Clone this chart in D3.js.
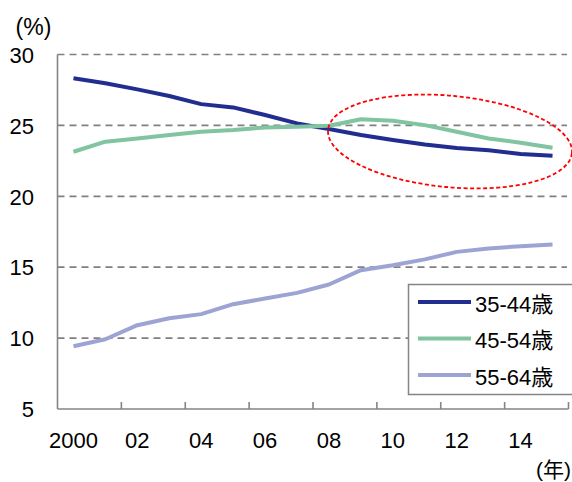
<!DOCTYPE html>
<html>
<head>
<meta charset="utf-8">
<script src="https://cdn.jsdelivr.net/npm/d3@7"></script>
<style>
  html, body { margin: 0; padding: 0; background: #fff; }
  svg { display: block; }
  text { font-family: "Liberation Sans", Arial, "Noto Sans CJK JP", sans-serif; fill: #000; }
</style>
</head>
<body>
<svg id="chart" width="572" height="482"></svg>
<script>
// ---- data ----
const years = [2000,2001,2002,2003,2004,2005,2006,2007,2008,2009,2010,2011,2012,2013,2014,2015];
const age35_44 = [28.32,27.97,27.54,27.07,26.50,26.27,25.73,25.14,24.75,24.32,23.97,23.65,23.40,23.24,22.98,22.86];
const age45_54 = [23.14,23.85,24.08,24.32,24.55,24.67,24.86,24.90,24.98,25.43,25.33,25.02,24.55,24.08,23.78,23.42];
const age55_64 = [9.43,9.92,10.91,11.40,11.69,12.39,12.79,13.19,13.78,14.79,15.14,15.55,16.08,16.32,16.48,16.60];
const seriesNames = ["35-44歳","45-54歳","55-64歳"];
const yTicks = [5,10,15,20,25,30];
const xTickYears = [2000,2002,2004,2006,2008,2010,2012,2014];
const xTickLabels = ["2000","02","04","06","08","10","12","14"];
const yUnit = "(%)";
const xUnit = "(年)";

// ---- layout ----
const svg = d3.select("#chart");
const colors = ["#212d8f", "#80c4a1", "#9da3d3"];
const seriesData = [age35_44, age45_54, age55_64];

const x = d3.scaleBand().domain(years).range([57.5, 568.5]).padding(0);
const y = d3.scaleLinear().domain([5, 30]).range([409, 54.5]);
const cx = d => x(d) + x.bandwidth() / 2;

// gridlines
svg.append("g")
  .selectAll("line")
  .data(yTicks.filter(v => v > 5))
  .join("line")
  .attr("x1", 57.5).attr("x2", 567)
  .attr("y1", d => y(d)).attr("y2", d => y(d))
  .attr("stroke", "#808080")
  .attr("stroke-width", 1.7)
  .attr("stroke-dasharray", "7,5");

// y axis labels
const yAxis = d3.axisLeft(y).tickValues(yTicks).tickSize(0).tickPadding(0).tickFormat(d3.format("d"));
const gy = svg.append("g").attr("transform", "translate(34,0)").call(yAxis);
gy.select(".domain").remove();
gy.selectAll("text")
  .attr("font-size", 22)
  .attr("dy", "0.35em")
  .attr("x", 0)
  .style("font-family", "\"Liberation Sans\", Arial, sans-serif")
  .attr("fill", "#000");

// axes lines
svg.append("line")
  .attr("x1", 57.5).attr("x2", 57.5)
  .attr("y1", y(30)).attr("y2", y(5))
  .attr("stroke", "#858585").attr("stroke-width", 1.6);
svg.append("line")
  .attr("x1", 57.5).attr("x2", 568.5)
  .attr("y1", y(5)).attr("y2", y(5))
  .attr("stroke", "#858585").attr("stroke-width", 1.6);

// x tick marks at band boundaries of even years (pointing up)
const tickPos = xTickYears.slice(1).map(d => x(d)).concat([x(2015) + x.bandwidth()]);
svg.append("g").selectAll("line")
  .data(tickPos)
  .join("line")
  .attr("x1", d => d).attr("x2", d => d)
  .attr("y1", y(5)).attr("y2", y(5) - 7)
  .attr("stroke", "#858585").attr("stroke-width", 1.6);

// x labels
const xAxis = d3.axisBottom(x).tickValues(xTickYears).tickSize(0).tickPadding(0)
  .tickFormat((d, i) => xTickLabels[i]);
const gx = svg.append("g").attr("transform", "translate(0,448)").call(xAxis);
gx.select(".domain").remove();
gx.selectAll("text")
  .attr("font-size", 22)
  .attr("dy", 0)
  .attr("y", 0)
  .style("font-family", "\"Liberation Sans\", Arial, sans-serif")
  .attr("fill", "#000");

// lines
const line = d3.line().x((d, i) => cx(years[i])).y(d => y(d));
svg.append("g").selectAll("path")
  .data(seriesData)
  .join("path")
  .attr("d", d => line(d))
  .attr("fill", "none")
  .attr("stroke", (d, i) => colors[i])
  .attr("stroke-width", 4)
  .attr("stroke-linejoin", "round");

// highlight ellipse
svg.append("ellipse")
  .attr("transform", "translate(450,141.5) rotate(5.45)")
  .attr("rx", 122.5).attr("ry", 45.7)
  .attr("fill", "none")
  .attr("stroke", "#ff0000")
  .attr("stroke-width", 1.8)
  .attr("stroke-dasharray", "4,2.5");

// legend
const lg = svg.append("g");
lg.append("rect")
  .attr("x", 408.5).attr("y", 284.5)
  .attr("width", 170).attr("height", 110)
  .attr("fill", "#fff")
  .attr("stroke", "#858585").attr("stroke-width", 1.5);
const legendY = [302, 338.5, 375];
seriesNames.forEach((name, i) => {
  lg.append("line")
    .attr("x1", 418).attr("x2", 471)
    .attr("y1", legendY[i]).attr("y2", legendY[i])
    .attr("stroke", colors[i]).attr("stroke-width", 4);
  lg.append("text")
    .attr("x", 475).attr("y", legendY[i] + 9.5)
    .attr("font-size", 22)
    .text(name);
});

// units
svg.append("text")
  .attr("x", 33.5).attr("y", 34.5)
  .attr("text-anchor", "middle")
  .attr("font-size", 23)
  .text(yUnit);
svg.append("text")
  .attr("x", 571).attr("y", 477)
  .attr("text-anchor", "end")
  .attr("font-size", 21)
  .text(xUnit);
</script>
</body>
</html>
